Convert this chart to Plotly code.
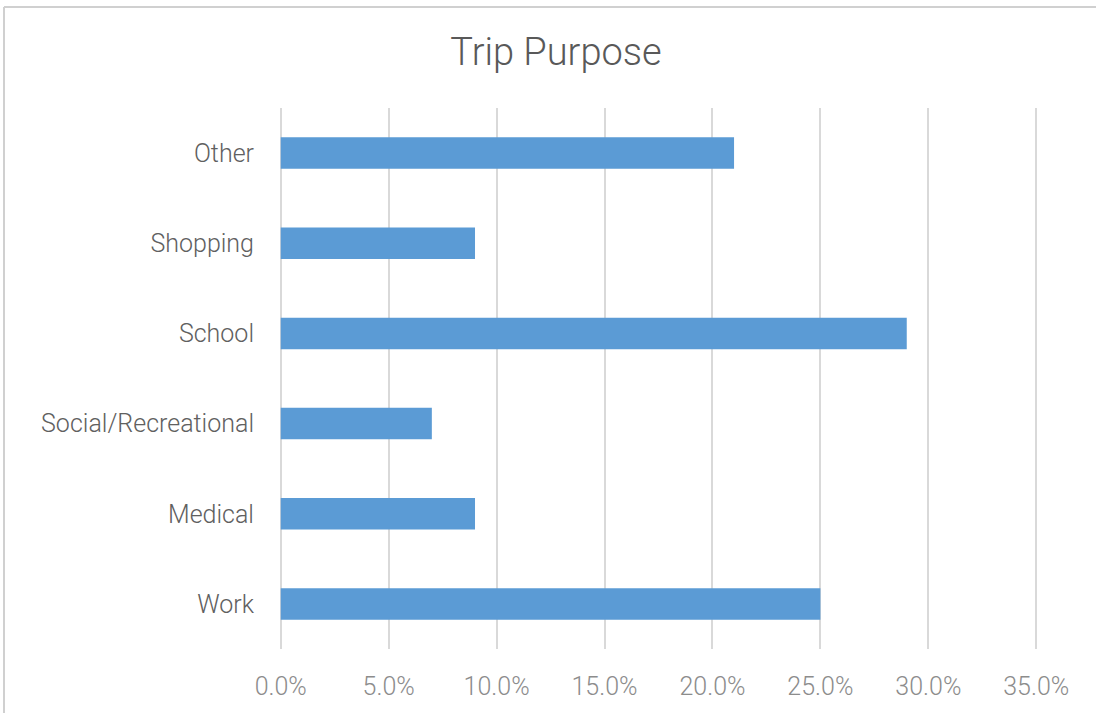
import plotly.graph_objects as go

categories = ["Work", "Medical", "Social/Recreational", "School", "Shopping", "Other"]
values = [0.25, 0.09, 0.07, 0.29, 0.09, 0.21]
tick_vals = [0, 0.05, 0.10, 0.15, 0.20, 0.25, 0.30, 0.35]
tick_text = ["0.0%", "5.0%", "10.0%", "15.0%", "20.0%", "25.0%", "30.0%", "35.0%"]

W, H = 1096, 713
L, R, T, B = 279, 58, 108, 58
pw, ph = W - L - R, H - T - B

fig = go.Figure(go.Bar(
    x=values, y=categories, orientation="h",
    marker=dict(color="#5B9BD5", line=dict(width=0)),
    width=0.35,
))

fig.update_layout(
    width=W, height=H,
    margin=dict(l=L, r=R, t=T, b=B, pad=0),
    paper_bgcolor="white", plot_bgcolor="white",
    showlegend=False,
    title=dict(text="Trip Purpose", x=556 / W, xanchor="center", xref="container",
               y=1 - 52 / H, yanchor="middle", yref="container",
               font=dict(family="Roboto", size=38, color="#595959", weight=300)),
    font=dict(family="Roboto"),
    xaxis=dict(range=[-0.0008, 0.3508], tickvals=tick_vals, ticktext=tick_text,
               showgrid=True, gridcolor="#D9D9D9", gridwidth=1.5,
               zeroline=False, showline=False, ticks="",
               ticklabelstandoff=20,
               tickfont=dict(family="Roboto", size=25, color="#8C8C8C", weight=300)),
    yaxis=dict(showgrid=False, zeroline=False, showline=False, ticks="",
               ticklabelstandoff=24,
               tickfont=dict(family="Roboto", size=25, color="#606060", weight=300)),
    shapes=[
        dict(type="line", xref="paper", yref="paper",
             x0=(4 - L) / pw, x1=(W + 10 - L) / pw,
             y0=1 + (T - 6) / ph, y1=1 + (T - 6) / ph,
             line=dict(color="#D0D0D0", width=2), layer="below"),
        dict(type="line", xref="paper", yref="paper",
             x0=(4 - L) / pw, x1=(4 - L) / pw,
             y0=-(B + 10) / ph, y1=1 + (T - 6) / ph,
             line=dict(color="#D0D0D0", width=2), layer="below"),
    ],
)

fig.write_html("out.html", config={"displayModeBar": False},
               post_script="document.body.style.margin='0';")
